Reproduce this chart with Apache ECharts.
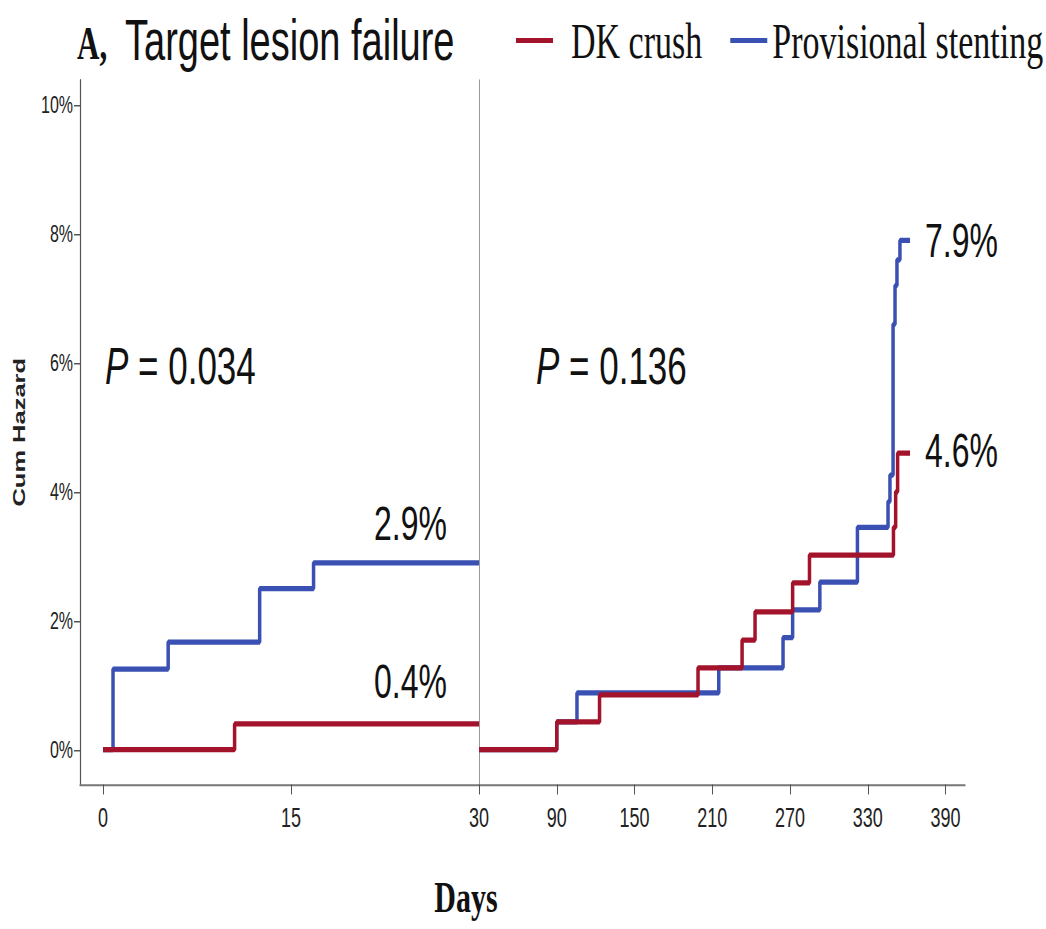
<!DOCTYPE html>
<html>
<head>
<meta charset="utf-8">
<title>Target lesion failure</title>
<script src="https://cdn.jsdelivr.net/npm/echarts@6/dist/echarts.min.js"></script>
<style>
  html, body { margin: 0; padding: 0; background: #fff; }
  body { width: 1046px; height: 929px; }
  #chart { width: 1046px; transform-origin: 0 0; }
</style>
</head>
<body>
<div id="chart"></div>
<script>
// Cumulative hazard of target lesion failure, landmark analysis at 30 days.
const yTicks = [0, 2, 4, 6, 8, 10];
const earlyTicks = [0, 15, 30];
const lateTicks = [90, 150, 210, 270, 330, 390];

// [day, cumulative hazard %]
const earlyDK = [[0, 0], [10.5, 0.4], [30, 0.4]];
const earlyPS = [[0, 0], [0.8, 1.25], [5.2, 1.67], [12.5, 2.5], [16.8, 2.9], [30, 2.9]];
const lateDK = [[30, 0], [90, 0.43], [123, 0.85], [199, 1.27], [233, 1.7], [243, 2.14],
                [272, 2.59], [285, 3.02], [349.8, 3.45], [351.5, 4.0], [353, 4.6], [362.6, 4.6]];
const latePS = [[30, 0], [90, 0.43], [105.6, 0.88], [215, 1.27], [264.6, 1.74], [272, 2.17],
                [293, 2.6], [322, 3.45], [345.6, 3.85], [347.1, 4.26], [349.5, 6.6], [351, 7.2],
                [352.5, 7.6], [354.8, 7.9], [362.6, 7.9]];

const pEarly = '0.034';
const pLate = '0.136';
const seriesNames = ['DK crush', 'Provisional stenting'];

// The figure is drawn in a squeezed layout and stretched vertically.
const S = 1.5;
const H = 929 / S;
const py = v => v / S;

const RED = '#a3142c';
const BLUE = '#3b50b3';
const SANS = '"Liberation Sans", Arial, sans-serif';
const SERIF = '"Liberation Serif", "Times New Roman", serif';

const el = document.getElementById('chart');
el.style.height = H + 'px';
el.style.transform = 'scaleY(' + S + ')';
const chart = echarts.init(el, null, { renderer: 'svg' });

function stepSeries(name, color, pts, grid, label) {
  return {
    type: 'line', name, step: 'end',
    xAxisIndex: grid, yAxisIndex: grid,
    symbol: 'circle', symbolSize: 0, showSymbol: true,
    silent: true, emphasis: { disabled: true },
    lineStyle: { color, width: 3.5 },
    itemStyle: { color },
    data: pts.map((p, i) => i === pts.length - 1
      ? { value: p, label: Object.assign({
            show: true, formatter: p[1].toFixed(1) + '%',
            fontFamily: SANS, fontSize: 32, color: '#111'
          }, label) }
      : p)
  };
}

const yBase = {
  type: 'value', min: -0.54, max: 10.39,
  splitLine: { show: false }
};

const xLine = { show: true, onZero: false, lineStyle: { color: '#777', width: 1.2 } };
const xTick = { show: true, length: py(10), lineStyle: { color: '#555', width: 1 } };
const xLabel = { margin: 13, fontFamily: SANS, fontSize: 18, color: '#222' };

chart.setOption({
  animation: false,
  backgroundColor: '#fff',
  title: [
    { text: 'A,', left: 77, top: 13.5, padding: 0,
      textStyle: { fontFamily: SERIF, fontWeight: 'bold', fontSize: 31, lineHeight: 31, color: '#111' } },
    { text: 'Target lesion failure', left: 125, top: 7.5, padding: 0,
      textStyle: { fontFamily: SANS, fontWeight: 'normal', fontSize: 38, lineHeight: 38, color: '#111' } }
  ],
  legend: {
    left: 516, top: 10, padding: 0,
    icon: 'rect', itemWidth: 37, itemHeight: py(5), itemGap: 28,
    textStyle: { fontFamily: SERIF, fontSize: 34, lineHeight: 34, color: '#111' },
    data: [
      { name: seriesNames[0], textStyle: { padding: [0, 0, 0, 13] } },
      { name: seriesNames[1] }
    ]
  },
  grid: [
    { left: 80, width: 399, top: py(80), bottom: py(144) },
    { left: 479, right: 81, top: py(80), bottom: py(144) }
  ],
  xAxis: [
    { gridIndex: 0, type: 'value', min: -1.835, max: 30,
      splitLine: { show: false },
      axisLine: xLine, axisTick: Object.assign({ customValues: earlyTicks }, xTick),
      axisLabel: Object.assign({ customValues: earlyTicks }, xLabel) },
    { gridIndex: 1, type: 'value', min: 30, max: 405,
      splitLine: { show: false },
      axisLine: xLine, axisTick: Object.assign({ customValues: lateTicks }, xTick),
      axisLabel: Object.assign({ customValues: lateTicks }, xLabel) }
  ],
  yAxis: [
    Object.assign({ gridIndex: 0,
      axisLine: { show: true, onZero: false, lineStyle: { color: '#555', width: 1.2 } },
      axisTick: { show: true, customValues: yTicks, length: 6, lineStyle: { color: '#555', width: 1 } },
      axisLabel: { customValues: yTicks, formatter: '{value}%', margin: 7,
                   fontFamily: SANS, fontSize: 16, color: '#222' },
      name: 'Cum Hazard', nameLocation: 'middle', nameGap: 52,
      nameTextStyle: { fontFamily: SANS, fontWeight: 'bold', fontSize: 17, color: '#222' }
    }, yBase),
    Object.assign({ gridIndex: 1,
      axisLine: { show: true, onZero: false, lineStyle: { color: '#999', width: 1 } },
      axisTick: { show: false }, axisLabel: { show: false }
    }, yBase)
  ],
  graphic: [
    { type: 'text', x: 105, y: 243.6, silent: true,
      style: { text: '{i|P} = ' + pEarly, verticalAlign: 'middle', fill: '#111',
               fontFamily: SANS, fontSize: 35,
               rich: { i: { fontStyle: 'italic', fontFamily: SANS, fontSize: 35, fill: '#111' } } } },
    { type: 'text', x: 536, y: 243.6, silent: true,
      style: { text: '{i|P} = ' + pLate, verticalAlign: 'middle', fill: '#111',
               fontFamily: SANS, fontSize: 35,
               rich: { i: { fontStyle: 'italic', fontFamily: SANS, fontSize: 35, fill: '#111' } } } },
    // shared x-axis title under both panels
    { type: 'text', x: 466, y: py(882) - 5, silent: true,
      style: { text: 'Days', align: 'center', verticalAlign: 'top', fill: '#111',
               fontFamily: SERIF, fontWeight: 'bold', fontSize: 30 } }
  ],
  series: [
    stepSeries(seriesNames[1], BLUE, earlyPS, 0, { position: 'left', offset: [-27, -26.4] }),
    stepSeries(seriesNames[0], RED, earlyDK, 0, { position: 'left', offset: [-27, -28.5] }),
    stepSeries(seriesNames[1], BLUE, latePS, 1, { position: 'right', offset: [10, 0] }),
    stepSeries(seriesNames[0], RED, lateDK, 1, { position: 'right', offset: [10, -2] })
  ]
});
</script>
</body>
</html>
